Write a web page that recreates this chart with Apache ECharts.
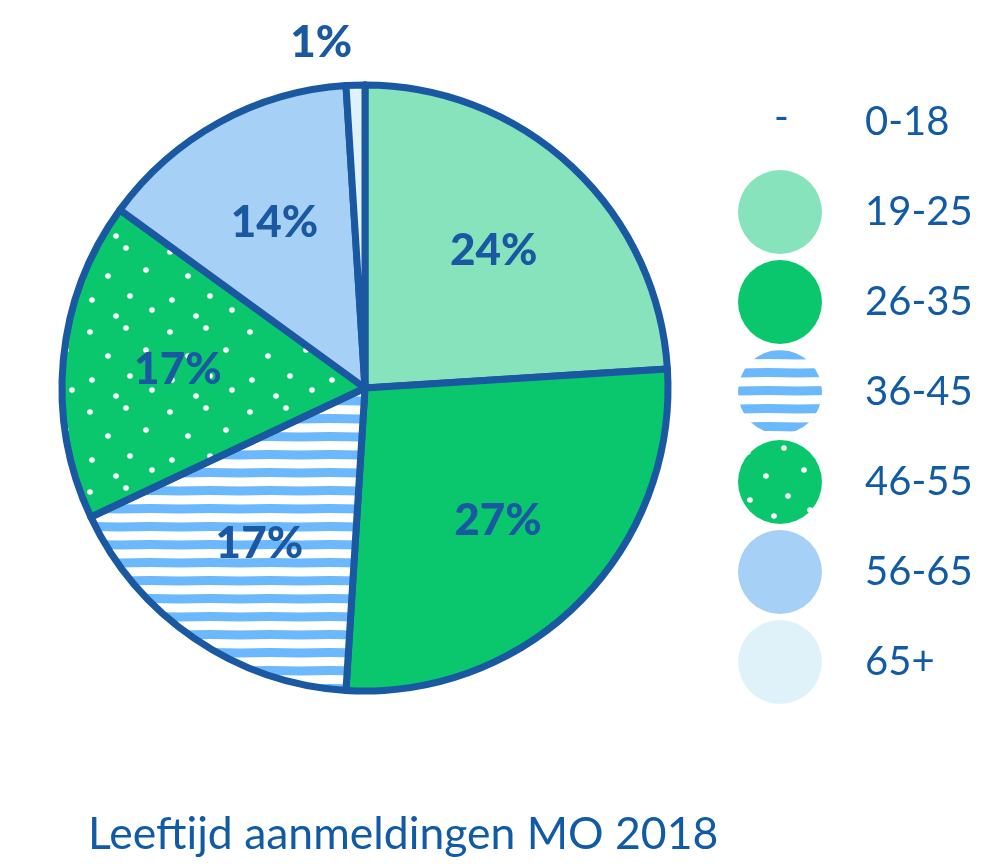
<!DOCTYPE html>
<html>
<head>
<meta charset="utf-8">
<script src="https://cdn.jsdelivr.net/npm/echarts@6/dist/echarts.min.js"></script>
<style>html,body{margin:0;padding:0;background:#fff}#c{width:1003px;height:868px}</style>
</head>
<body>
<div id="c"></div>
<script>
const categories = ['0-18', '19-25', '26-35', '36-45', '46-55', '56-65', '65+'];
const values = [0, 24, 27, 17, 17, 14, 1];
const titleText = 'Leeftijd aanmeldingen MO 2018';

const BLUE = '#1a58a2';
const TXT = '#115aa6';

function stripePattern() {
  const c = document.createElement('canvas');
  c.width = 60; c.height = 18;
  const g = c.getContext('2d');
  g.fillStyle = '#ffffff'; g.fillRect(0, 0, 60, 18);
  g.fillStyle = '#6cb8fc';
  g.beginPath();
  g.moveTo(0, 0.5);
  g.quadraticCurveTo(30, -0.5, 60, 0.5);
  g.lineTo(60, 9.5);
  g.quadraticCurveTo(30, 8.5, 0, 9.5);
  g.closePath();
  g.fill();
  return c;
}
function dotPattern() {
  const c = document.createElement('canvas');
  c.width = 80; c.height = 80;
  const g = c.getContext('2d');
  g.fillStyle = '#0ac76e'; g.fillRect(0, 0, 80, 80);
  g.fillStyle = '#ffffff';
  const pts = [[10,12],[46,8],[28,36],[66,30],[12,60],[50,56],[72,70],[36,76]];
  pts.forEach(p => { g.beginPath(); g.arc(p[0], p[1], 2.8, 0, Math.PI*2); g.fill(); });
  return c;
}

const fills = [
  'rgba(0,0,0,0)',
  '#86e3bb',
  '#0ac76e',
  { image: stripePattern(), repeat: 'repeat' },
  { image: dotPattern(), repeat: 'repeat' },
  '#a6d0f5',
  '#dff2fa'
];

const mainData = categories.map((n, i) => ({
  name: n,
  value: values[i],
  itemStyle: { color: fills[i] },
  label: i === 6 ? { show: true, position: 'outside' } : { show: false },
  labelLine: { show: false, length: 42, length2: 2 }
}));
const labelData = categories.map((n, i) => ({
  name: n,
  value: values[i],
  label: { show: i >= 1 && i <= 5 }
}));
const legendData = categories.map((n, i) => i === 0
  ? { name: n, itemStyle: { opacity: 0 } }
  : { name: n });

const chart = echarts.init(document.getElementById('c'));
chart.setOption({
  animation: false,
  title: {
    text: titleText,
    left: 88, top: 812,
    padding: 0,
    textStyle: { fontFamily: 'Lato', fontWeight: 'normal', fontSize: 44.5, color: TXT }
  },
  legend: {
    orient: 'vertical',
    left: 738, top: 80,
    padding: 0,
    itemWidth: 84, itemHeight: 84, itemGap: 6,
    icon: 'circle',
    selectedMode: false,
    data: legendData,
    itemStyle: { borderWidth: 0 },
    textStyle: { fontFamily: 'Lato', fontSize: 40, color: TXT, padding: [0, 0, 0, 38] }
  },
  graphic: [{
    type: 'text', left: 774, top: 98,
    style: { text: '-', fontFamily: 'Lato', fontSize: 40, fill: TXT }
  }],
  series: [{
    type: 'pie',
    z: 2,
    center: [365, 388],
    radius: [0, 303],
    startAngle: 90,
    clockwise: true,
    avoidLabelOverlap: false,
    silent: true,
    itemStyle: { borderColor: BLUE, borderWidth: 7, borderJoin: 'round' },
    label: {
      formatter: '{d}%',
      fontFamily: 'Lato', fontWeight: 900, fontSize: 44, color: BLUE,
      distanceToLabelLine: 0
    },
    emphasis: { disabled: true },
    data: mainData
  }, {
    type: 'pie',
    z: 3,
    center: [365, 388],
    radius: [0, 370],
    startAngle: 90,
    clockwise: true,
    avoidLabelOverlap: false,
    silent: true,
    itemStyle: { color: 'rgba(0,0,0,0)', borderWidth: 0 },
    label: {
      position: 'inside',
      formatter: '{d}%',
      fontFamily: 'Lato', fontWeight: 900, fontSize: 44, color: BLUE
    },
    labelLine: { show: false },
    emphasis: { disabled: true },
    data: labelData
  }]
});
</script>
</body>
</html>
